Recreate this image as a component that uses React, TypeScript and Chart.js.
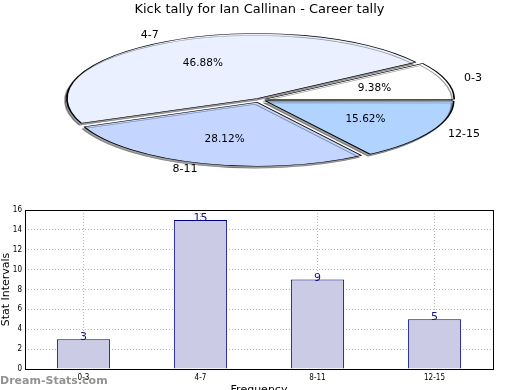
import React, { useEffect, useRef } from 'react';
import { Chart, registerables } from 'chart.js';

Chart.register(...registerables);

const chartTitle = 'Kick tally for Ian Callinan - Career tally';
const categories = ['0-3', '4-7', '8-11', '12-15'];
const tallies = [3, 15, 9, 5];
const pieColors = ['#ffffff', '#eaf0ff', '#c4d6ff', '#b0d4ff'];
const yMin = 0;
const yMax = 16;
const yStep = 2;
const xTitle = 'Frequency';
const yTitle = 'Stat Intervals';
const watermark = 'Dream-Stats.com';

const FONT = '"DejaVu Sans", "Liberation Sans", sans-serif';
const SMALL_FONT = '"DejaVu Sans Condensed", "DejaVu Sans", sans-serif';

// ellipse squash of the pie
const SX = 1.7;
const SY = 0.58;

function pctLabel(v: number, total: number): string {
  const x = (v / total) * 10000;
  const f = Math.floor(x + 1e-9);
  const d = x - f;
  let n: number;
  if (Math.abs(d - 0.5) < 1e-9) n = f % 2 === 0 ? f : f + 1;
  else n = Math.round(x);
  return (n / 100).toFixed(2) + '%';
}

const ellipsePlugin = {
  id: 'ellipsePie',
  beforeDatasetsDraw(chart: any) {
    const arc = chart.getDatasetMeta(0).data[0];
    const ctx = chart.ctx;
    ctx.save();
    ctx.translate(arc.x, arc.y);
    ctx.scale(SX, -SY);
    ctx.translate(-arc.x, -arc.y);
    ctx.shadowColor = 'rgba(0,0,0,0.38)';
    ctx.shadowOffsetX = -2;
    ctx.shadowOffsetY = 2;
    ctx.shadowBlur = 0.5;
  },
  afterDatasetsDraw(chart: any) {
    const ctx = chart.ctx;
    ctx.restore();
    const meta = chart.getDatasetMeta(0);
    const data: number[] = chart.data.datasets[0].data;
    const labels: string[] = chart.data.labels;
    const total = data.reduce((a, b) => a + b, 0);
    ctx.save();
    ctx.fillStyle = '#000';
    ctx.textBaseline = 'middle';
    meta.data.forEach((arc: any, i: number) => {
      const m = (arc.startAngle + arc.endAngle) / 2;
      const circ = arc.endAngle - arc.startAngle;
      const off = arc.options.offset || 0;
      const t = (off / 4) * (2 - Math.sin(Math.min(Math.PI, circ)));
      const pt = (d: number) => {
        const r = arc.outerRadius * d + t;
        return [arc.x + SX * Math.cos(m) * r, arc.y - SY * Math.sin(m) * r];
      };
      ctx.font = '10.5px ' + FONT;
      const [px, py] = pt(0.6);
      ctx.textAlign = 'center';
      ctx.fillText(pctLabel(data[i], total), px, py);
      ctx.font = '11px ' + FONT;
      const [lx, ly] = pt(1.1);
      ctx.textAlign = Math.cos(m) > 0 ? 'left' : 'right';
      ctx.fillText(labels[i], lx, ly);
    });
    ctx.restore();
  },
};

const barLabelPlugin = {
  id: 'barLabels',
  afterDatasetsDraw(chart: any) {
    const ctx = chart.ctx;
    const meta = chart.getDatasetMeta(0);
    const data: number[] = chart.data.datasets[0].data;
    ctx.save();
    ctx.font = '11px ' + FONT;
    ctx.fillStyle = '#10108a';
    ctx.textAlign = 'center';
    ctx.textBaseline = 'alphabetic';
    meta.data.forEach((bar: any, i: number) => {
      ctx.fillText(String(data[i]), bar.x, bar.y + 1);
    });
    ctx.restore();
  },
  afterDraw(chart: any) {
    const { ctx, chartArea: a } = chart;
    ctx.save();
    ctx.strokeStyle = '#000';
    ctx.lineWidth = 1;
    ctx.strokeRect(Math.round(a.left) + 0.5, Math.round(a.top) + 0.5, Math.round(a.right - a.left), Math.round(a.bottom - a.top));
    ctx.restore();
  },
};

export default function App() {
  const pieRef = useRef<HTMLCanvasElement>(null);
  const barRef = useRef<HTMLCanvasElement>(null);

  useEffect(() => {
    const pie = new Chart(pieRef.current as HTMLCanvasElement, {
      type: 'pie',
      data: {
        labels: categories,
        datasets: [
          {
            data: tallies,
            backgroundColor: pieColors,
            borderColor: '#000',
            borderWidth: 1,
            offset: [13, 10.4, 18.4, 16],
            radius: 110,
            clip: false,
          } as any,
        ],
      },
      options: {
        animation: false,
        responsive: false,
        rotation: 90,
        layout: { padding: { left: 0, right: 1, top: 0, bottom: 0 } },
        events: [],
        plugins: {
          legend: { display: false },
          tooltip: { enabled: false },
          title: {
            display: true,
            text: chartTitle,
            color: '#000',
            font: { family: FONT, size: 13, weight: 'normal' },
            padding: { top: 2, bottom: 0 },
          },
        },
      } as any,
      plugins: [ellipsePlugin],
    });

    const bar = new Chart(barRef.current as HTMLCanvasElement, {
      type: 'bar',
      data: {
        labels: categories,
        datasets: [
          {
            data: tallies,
            backgroundColor: '#cbcbe5',
            borderColor: '#000088',
            borderWidth: 1,
            barPercentage: 0.455,
            categoryPercentage: 1,
          },
        ],
      },
      options: {
        animation: false,
        responsive: false,
        events: [],
        layout: { padding: { top: 15, right: 27, left: 0, bottom: 0 } },
        plugins: { legend: { display: false }, tooltip: { enabled: false } },
        scales: {
          x: {
            offset: true,
            z: 1,
            grid: { offset: false, color: '#b8b8b8', drawTicks: false, lineWidth: 1 },
            border: { display: false, dash: [1, 2] },
            ticks: { color: '#000', font: { family: SMALL_FONT, size: 8 }, padding: 4 },
            title: {
              display: true,
              text: xTitle,
              color: '#000',
              font: { family: FONT, size: 11 },
              padding: { top: 0, bottom: 3 },
            },
            afterFit: (s: any) => {
              s.height = 31;
            },
          },
          y: {
            min: yMin,
            max: yMax,
            z: 1,
            grid: { color: '#b8b8b8', drawTicks: false, lineWidth: 1 },
            border: { display: false, dash: [1, 2] },
            ticks: { stepSize: yStep, color: '#000', font: { family: SMALL_FONT, size: 8 }, padding: 3 },
            title: {
              display: true,
              text: yTitle,
              color: '#000',
              font: { family: FONT, size: 11 },
              padding: { top: 0, bottom: 0 },
            },
            afterFit: (s: any) => {
              s.width = 25;
            },
          },
        },
      } as any,
      plugins: [barLabelPlugin],
    });

    return () => {
      pie.destroy();
      bar.destroy();
    };
  }, []);

  return (
    <div
      style={{
        position: 'fixed',
        left: 0,
        top: 0,
        width: 520,
        height: 390,
        overflow: 'hidden',
        background: '#fff',
      }}
    >
      <canvas ref={pieRef} width={520} height={182} style={{ position: 'absolute', left: 0, top: 0 }} />
      <canvas ref={barRef} width={520} height={205} style={{ position: 'absolute', left: 0, top: 195 }} />
      <div
        style={{
          position: 'absolute',
          left: 0,
          top: 374,
          fontFamily: FONT,
          fontWeight: 'bold',
          fontSize: 11,
          lineHeight: '14px',
          color: 'rgba(110,110,110,0.75)',
          whiteSpace: 'nowrap',
        }}
      >
        {watermark}
      </div>
    </div>
  );
}
